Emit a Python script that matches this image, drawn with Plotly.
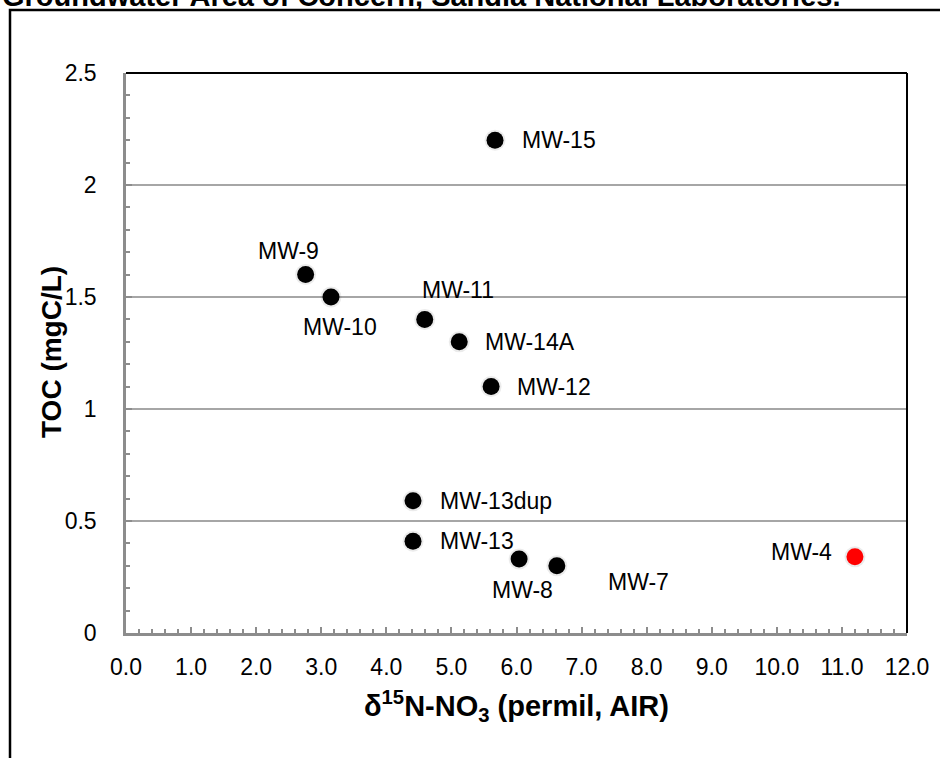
import plotly.graph_objects as go

# Data
wells = ["MW-15", "MW-9", "MW-10", "MW-11", "MW-14A", "MW-12", "MW-13dup", "MW-13", "MW-8", "MW-7", "MW-4"]
d15n = [5.67, 2.76, 3.15, 4.59, 5.12, 5.61, 4.41, 4.41, 6.04, 6.62, 11.2]
toc = [2.20, 1.60, 1.50, 1.40, 1.30, 1.10, 0.59, 0.41, 0.33, 0.30, 0.34]
colors = ["black"] * 10 + ["#ff0000"]

# label offsets in pixels (style), anchor
label_style = [
    (25, 0, "left"), (-17, 24, "center"), (9, -30, "center"), (33, 29, "center"),
    (24, 0, "left"), (24, 0, "left"), (25, 0, "left"), (25, 0, "left"),
    (3, -31, "center"), (82, -16, "center"), (-53, 5, "center"),
]

OFF = 0  # body margin removed via post_script
W, H = 940, 758
PX0, PX1, PY0, PY1 = 126, 907, 73, 633
L = PX0 - OFF
T = PY0 - OFF
R = W - (PX1 - OFF)
B = H - (PY1 - OFF)
pw, ph = PX1 - PX0, PY1 - PY0

def px(xp):  # page pixel -> paper
    return (xp - PX0) / pw

def py(yp):
    return (PY1 - yp) / ph

FONT = "Liberation Sans, Arial, Helvetica"

fig = go.Figure()
fig.add_trace(go.Scatter(
    x=d15n, y=toc, mode="markers",
    marker=dict(size=21, color="rgba(0,0,0,0.08)", line=dict(width=0)),
    hoverinfo="skip", showlegend=False))
fig.add_trace(go.Scatter(
    x=d15n, y=toc, mode="markers",
    marker=dict(size=17, color=colors, line=dict(width=0)),
    text=wells, showlegend=False))

ann = []
for w, xv, yv, (xs, ys, anc) in zip(wells, d15n, toc, label_style):
    ann.append(dict(x=xv, y=yv, xref="x", yref="y", text=w, showarrow=False,
                    xanchor=anc, yanchor="middle", xshift=xs, yshift=ys,
                    font=dict(family=FONT, size=23, color="black")))

ann.append(dict(x=px(0), y=py(-4), xref="paper", yref="paper", xanchor="left", yanchor="middle",
                text="<b>Groundwater Area of Concern, Sandia National Laboratories.</b>", showarrow=False,
                font=dict(family=FONT, size=29, color="black")))
ann.append(dict(x=px(516), y=py(706), xref="paper", yref="paper", xanchor="center", yanchor="middle",
                text="<b>δ<sup>15</sup>N-NO<sub>3</sub> (permil, AIR)</b>", showarrow=False,
                font=dict(family=FONT, size=29, color="black")))
ann.append(dict(x=px(51), y=py(352), xref="paper", yref="paper", xanchor="center", yanchor="middle",
                text="<b>TOC (mgC/L)</b>", showarrow=False, textangle=-90,
                font=dict(family=FONT, size=28, color="black")))

fig.update_layout(
    width=W, height=H, autosize=False,
    margin=dict(l=L, r=R, t=T, b=B),
    paper_bgcolor="white", plot_bgcolor="white",
    font=dict(family=FONT, size=23, color="black"),
    annotations=ann,
    shapes=[
        dict(type="line", xref="paper", yref="paper", x0=0, x1=1, y0=1, y1=1,
             line=dict(color="black", width=2)),
        dict(type="line", xref="paper", yref="paper", x0=1, x1=1, y0=0, y1=1,
             line=dict(color="black", width=2)),
        dict(type="rect", xref="paper", yref="paper", x0=px(10), x1=px(980), y0=py(800), y1=py(10),
             line=dict(color="black", width=2.5), layer="below"),
    ],
)
fig.update_xaxes(
    range=[0, 12], tickmode="linear", tick0=0, dtick=1, tickformat=".1f",
    showgrid=False, zeroline=False, showline=True, linecolor="#8c8c8c", linewidth=2.5,
    ticks="inside", ticklen=6, tickwidth=1.5, tickcolor="#8c8c8c",
    minor=dict(dtick=0.2, ticks="inside", ticklen=4, tickwidth=1.5, tickcolor="#8c8c8c"),
    tickfont=dict(size=23), ticklabelstandoff=12, fixedrange=True,
)
fig.update_yaxes(
    range=[0, 2.5], tickmode="linear", tick0=0, dtick=0.5,
    showgrid=True, gridcolor="#a6a6a6", gridwidth=1.5, zeroline=False,
    showline=True, linecolor="#8c8c8c", linewidth=2.5,
    ticks="inside", ticklen=6, tickwidth=1.5, tickcolor="#8c8c8c",
    minor=dict(dtick=0.1, ticks="inside", ticklen=4, tickwidth=1.5, tickcolor="#8c8c8c", showgrid=False),
    tickfont=dict(size=23), ticklabelstandoff=22, fixedrange=True,
)

fig.write_html("out.html", config={"displayModeBar": False},
               post_script="document.body.style.margin='0';")
